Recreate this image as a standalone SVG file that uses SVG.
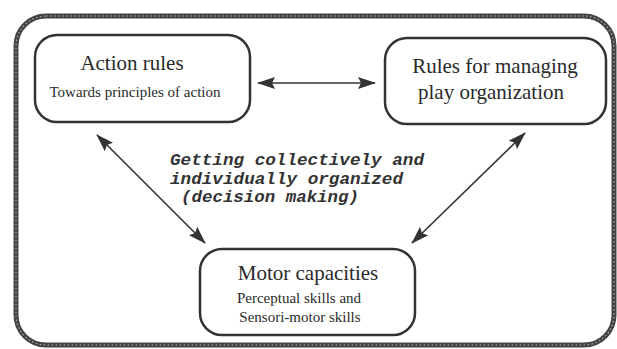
<svg xmlns="http://www.w3.org/2000/svg" width="617" height="349" viewBox="0 0 617 349">
<defs>
<style>
.box{fill:#fff;stroke:#333;stroke-width:2.5}
.title{font-family:"Liberation Serif","Times New Roman",serif;font-size:21px;fill:#2a2a2a;text-anchor:middle}
.sub{font-family:"Liberation Serif","Times New Roman",serif;font-size:15px;fill:#2a2a2a;text-anchor:middle}
.mid{font-family:"Liberation Mono","Courier New",monospace;font-size:16.5px;font-weight:bold;font-style:italic;fill:#333}
.conn{stroke:#333;stroke-width:1.6;fill:none;marker-start:url(#ah);marker-end:url(#ah)}
</style>
<marker id="ah" viewBox="0 0 18 12" refX="17" refY="6" markerWidth="18" markerHeight="12" markerUnits="userSpaceOnUse" orient="auto-start-reverse">
<path d="M0,0 L18,6 L0,12 L3,6 Z" fill="#333"/>
</marker>
</defs>
<g id="frame">
<rect x="16" y="16" width="598" height="329" rx="30" fill="none" stroke="#444" stroke-width="5"/>
<rect x="16" y="16" width="598" height="329" rx="30" fill="none" stroke="#aaa" stroke-width="1.2" stroke-dasharray="1.5 2.5"/>
</g>
<g id="connectors">
<line class="conn" x1="258" y1="83" x2="375" y2="83"/>
<line class="conn" x1="97" y1="135" x2="205" y2="243"/>
<line class="conn" x1="525" y1="133" x2="412" y2="243"/>
</g>
<g id="action-rules">
<rect class="box" x="35" y="35" width="215" height="87" rx="22"/>
<text class="title" x="132" y="70">Action rules</text>
<text class="sub" x="135" y="97">Towards principles of action</text>
</g>
<g id="rules-managing">
<rect class="box" x="385" y="38" width="221" height="86" rx="22"/>
<text class="title" x="495" y="73">Rules for managing</text>
<text class="title" x="491" y="99">play organization</text>
</g>
<g id="motor-capacities">
<rect class="box" x="200" y="249" width="215" height="86" rx="22"/>
<text class="title" x="308" y="280">Motor capacities</text>
<text class="sub" x="299" y="303">Perceptual skills and</text>
<text class="sub" x="300" y="322">Sensori-motor skills</text>
</g>
<g id="center-label">
<text class="mid" x="170" y="165" textLength="254" lengthAdjust="spacingAndGlyphs">Getting collectively and</text>
<text class="mid" x="170" y="183.5" textLength="233" lengthAdjust="spacingAndGlyphs">individually organized</text>
<text class="mid" x="181" y="202" textLength="178" lengthAdjust="spacingAndGlyphs">(decision making)</text>
</g>
</svg>
